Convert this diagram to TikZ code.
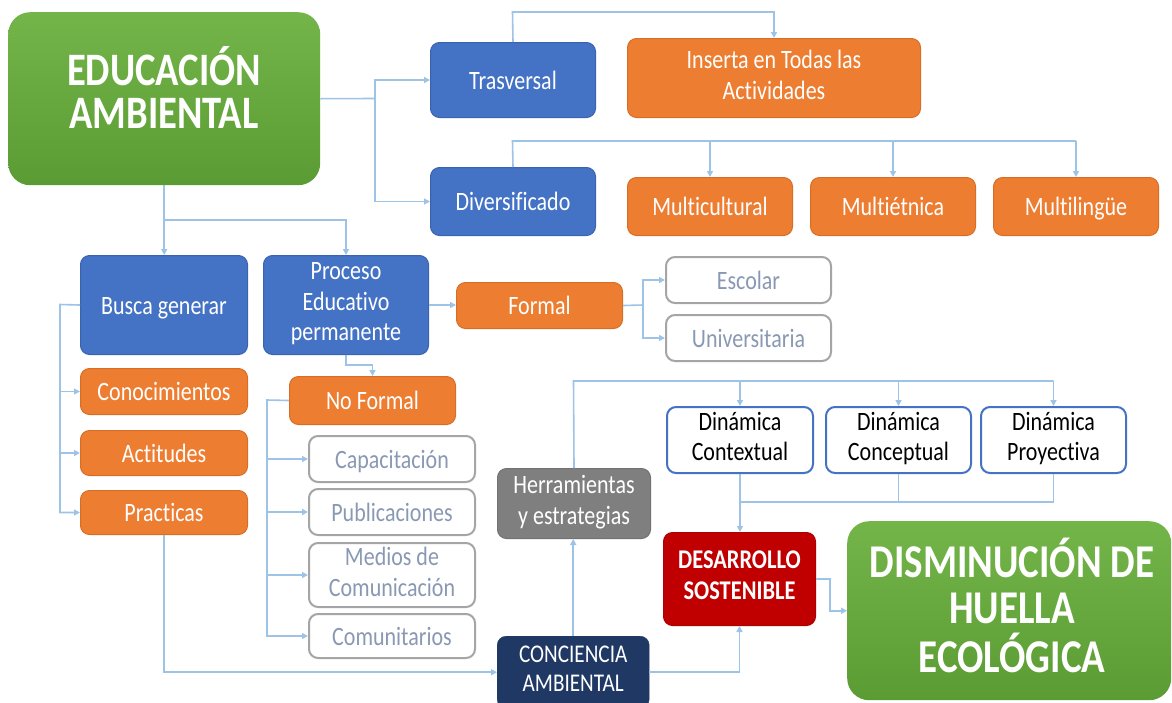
\documentclass[tikz,border=0pt]{standalone}
\usepackage{fontspec}
\setmainfont{Carlito}[FakeStretch=0.83, Ligatures=NoCommon]
\usetikzlibrary{arrows.meta,calc}

\definecolor{greentop}{HTML}{74B54A}
\definecolor{greenbottom}{HTML}{5A9C33}
\definecolor{boxblue}{HTML}{4472C4}
\definecolor{boxblueedge}{HTML}{3A64B0}
\definecolor{boxorange}{HTML}{ED7D31}
\definecolor{boxorangeedge}{HTML}{D86E26}
\definecolor{outlinegray}{HTML}{A5A5A5}
\definecolor{outlinetext}{HTML}{8A99B3}
\definecolor{navybox}{HTML}{203864}
\definecolor{redbox}{HTML}{C00000}
\definecolor{toolgray}{HTML}{7F7F7F}
\definecolor{linkblue}{HTML}{9DC3E6}

% line strut: keeps every label vertically centred in its box
\newcommand\linestrut{\rule[-0.26em]{0pt}{1.2em}}
\newcommand\boxfont[2]{\fontsize{#1}{#2}\selectfont\lineskiplimit=-1000pt\relax}

\tikzset{
  box/.style={rounded corners=9pt, align=center, inner sep=0pt, anchor=north west,
              font=\boxfont{26.5}{30.5},
              execute at begin node=\linestrut, execute at end node=\linestrut},
  bbox/.style={box, fill=boxblue, draw=boxblueedge, line width=1pt, text=white},
  obox/.style={box, fill=boxorange, draw=boxorangeedge, line width=1pt, text=white},
  gbox/.style={box, fill=white, draw=outlinegray, line width=2pt, text=outlinetext},
  dbox/.style={box, fill=white, draw=boxblue, line width=2pt, text=black},
  greenbox/.style={rounded corners=22pt, top color=greentop, bottom color=greenbottom,
                   draw=none, anchor=north west, inner sep=0pt},
  titleline/.style={anchor=base, inner sep=0pt, text=white},
  conn/.style={draw=linkblue, line width=1.6pt},
  arr/.style={conn, -{Triangle[length=6pt,width=6pt]}},
}

\begin{document}
\begin{tikzpicture}[x=1pt,y=-1pt]
\useasboundingbox (0,0) rectangle (1172,702);

% --- main title
\node[greenbox, minimum width=312pt, minimum height=173pt] (ea) at (8,12) {};
\node[titleline, font=\fontsize{46.5}{43}\selectfont\bfseries] (ea1) at (164,85) {EDUCACIÓN};
\node[titleline, font=\fontsize{46.5}{43}\selectfont\bfseries] (ea2) at (164,128) {AMBIENTAL};

% --- upper branch
\node[bbox, minimum width=165pt, minimum height=75pt] (tr) at (430,42) {Trasversal};
\node[obox, minimum width=293pt, minimum height=79pt] (ins) at (627,38) {Inserta en Todas las\\Actividades};
\node[bbox, minimum width=165pt, minimum height=68pt] (dv) at (430,167) {Diversificado};
\node[obox, minimum width=165pt, minimum height=58pt] (mcult) at (627,177) {Multicultural};
\node[obox, minimum width=165pt, minimum height=58pt] (metn) at (810,177) {Multiétnica};
\node[obox, minimum width=165pt, minimum height=58pt] (mling) at (993,177) {Multilingüe};

% --- second level
\node[bbox, minimum width=167pt, minimum height=99pt] (bg) at (80,255) {Busca generar};
\node[bbox, minimum width=165pt, minimum height=99pt] (pe) at (263,255) {Proceso\\Educativo\\permanente};
\node[obox, minimum width=166pt, minimum height=46pt] (formal) at (456,282) {Formal};
\node[gbox, minimum width=165pt, minimum height=46pt] (esc) at (665,256) {Escolar};
\node[gbox, minimum width=165pt, minimum height=46pt] (uni) at (665,314) {Universitaria};

\node[obox, minimum width=167pt, minimum height=46pt] (con) at (80,368) {Conocimientos};
\node[obox, minimum width=167pt, minimum height=45pt] (act) at (80,430) {Actitudes};
\node[obox, minimum width=167pt, minimum height=44pt] (prac) at (80,490) {Practicas};

\node[obox, minimum width=166pt, minimum height=48pt] (nf) at (289,376) {No Formal};
\node[gbox, minimum width=166pt, minimum height=46pt] (cap) at (308,435) {Capacitación};
\node[gbox, minimum width=166pt, minimum height=46pt] (pub) at (308,488) {Publicaciones};
\node[gbox, minimum width=166pt, minimum height=64pt] (med) at (308,542) {Medios de\\Comunicación};
\node[gbox, minimum width=166pt, minimum height=44pt] (com) at (308,613) {Comunitarios};

% --- lower right
\node[box, fill=toolgray, draw=toolgray!90!black, line width=1pt, text=white,
      minimum width=153pt, minimum height=70pt] (ht) at (497,468) {Herramientas\\y estrategias};
\node[box, fill=navybox, draw=navybox, text=white, font=\boxfont{25.5}{29},
      minimum width=152pt, minimum height=72pt] (ca) at (497,636) {CONCIENCIA\\AMBIENTAL};
\node[dbox, minimum width=146pt, minimum height=66pt] (dcx) at (666,406) {Dinámica\\Contextual};
\node[dbox, minimum width=145pt, minimum height=66pt] (dcp) at (825,406) {Dinámica\\Conceptual};
\node[dbox, minimum width=145pt, minimum height=66pt] (dp) at (980,406) {Dinámica\\Proyectiva};
\node[box, fill=redbox, draw=redbox!90!black, line width=1pt, text=white,
      font=\boxfont{27}{31}\bfseries,
      minimum width=152pt, minimum height=93pt] (ds) at (663,532) {DESARROLLO\\SOSTENIBLE};

% --- final goal
\node[greenbox, minimum width=324pt, minimum height=179pt] (dis) at (847,521) {};
\node[titleline, font=\fontsize{47}{47}\selectfont\bfseries] (dis1) at (1012,577) {DISMINUCIÓN DE};
\node[titleline, font=\fontsize{47}{47}\selectfont\bfseries] (dis2) at (1012,623) {HUELLA};
\node[titleline, font=\fontsize{47}{47}\selectfont\bfseries] (dis3) at (1012,672) {ECOLÓGICA};

% --- connectors: title to Trasversal / Diversificado
\coordinate (eaR) at (375,98.5);
\draw[conn] (ea.east) -- (eaR);
\draw[arr] (eaR) |- (tr.west);
\draw[arr] (eaR) |- (dv.west);

\coordinate (trTop) at (512.5,12);
\draw[arr] (tr.north) -- (trTop) -| (ins.north);

\coordinate (dvTop) at (512.5,141);
\draw[conn] (dv.north) -- (dvTop) -- (dvTop -| mling.north);
\draw[arr] (dvTop -| mcult.north) -- (mcult.north);
\draw[arr] (dvTop -| metn.north) -- (metn.north);
\draw[arr] (dvTop -| mling.north) -- (mling.north);

% --- title to second level
\coordinate (eaB) at (164,220);
\draw[arr] (ea.south) -- (ea.south |- bg.north);
\draw[arr] (eaB) -| (pe.north);

\coordinate (bgL) at (60,304.5);
\draw[arr] (bg.west) -- (bgL) |- (prac.west);
\draw[arr] (bgL |- con.west) -- (con.west);
\draw[arr] (bgL |- act.west) -- (act.west);

\draw[arr] (pe.east) -- (pe.east -| formal.west);
\draw[arr] (pe.south) -- ++(0,10) -| (nf.north);

\coordinate (fR) at (643,305);
\draw[conn] (formal.east) -- (fR);
\draw[arr] (fR) |- (esc.west);
\draw[arr] (fR) |- (uni.west);

\coordinate (nfL) at (267,400);
\draw[arr] (nf.west) -- (nfL) |- (com.west);
\draw[arr] (nfL |- cap.west) -- (cap.west);
\draw[arr] (nfL |- pub.west) -- (pub.west);
\draw[arr] (nfL |- med.west) -- (med.west);

% --- towards awareness and sustainability
\draw[arr] (prac.south) |- (ca.west);
\draw[arr] (ca.north) -- (ca.north |- ht.south);

\coordinate (htTop) at (573.5,381);
\draw[conn] (ht.north) -- (htTop) -- (htTop -| dp.north);
\draw[arr] (htTop -| dcx.north) -- (dcx.north);
\draw[arr] (htTop -| dcp.north) -- (dcp.north);
\draw[arr] (htTop -| dp.north) -- (dp.north);

\coordinate (dynB) at (739,502);
\draw[conn] (dp.south) -- (dp.south |- dynB) -- (dcx.south |- dynB);
\draw[conn] (dcp.south) -- (dcp.south |- dynB);
\draw[arr] (dcx.south) -- (dcx.south |- ds.north);

\draw[arr] (ca.east) -| (ds.south);
\draw[arr] (ds.east) -- ++(14,0) |- (dis.west);
\end{tikzpicture}
\end{document}
